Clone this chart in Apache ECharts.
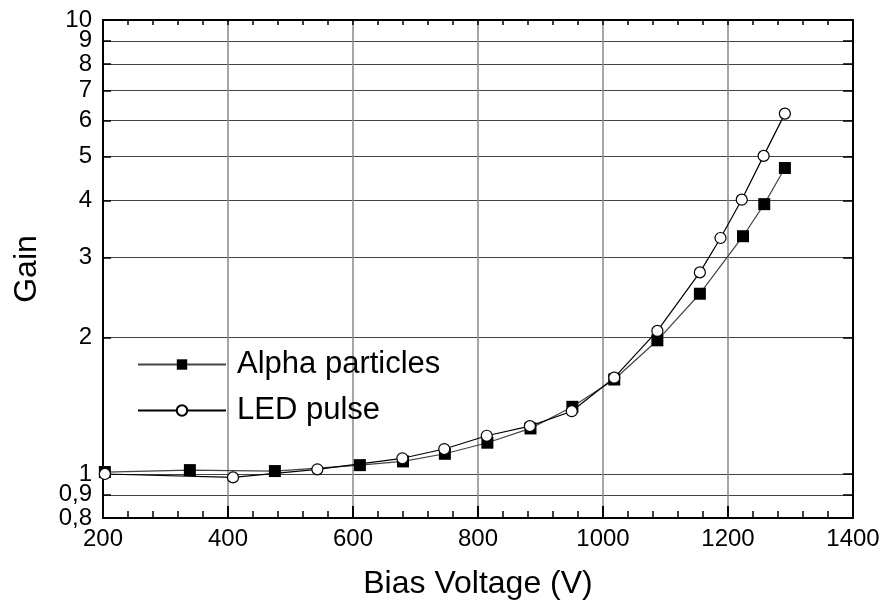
<!DOCTYPE html>
<html lang="en">
<head>
  <meta charset="UTF-8">
  <title>Gain vs Bias Voltage</title>
  <style>
    body, html { margin: 0; padding: 0; background: #fff; }
    #main { width: 888px; height: 613px; }
  </style>
</head>
<body>
  <div id="main"></div>
  <script src="https://cdn.jsdelivr.net/npm/echarts@6/dist/echarts.min.js"></script>
  <script>
    // data
    var alphaVolt = [203, 339, 475, 611, 680, 747, 815, 884, 951, 1018, 1087, 1155, 1224, 1258, 1291];
    var alphaGain = [1.01, 1.02, 1.015, 1.046, 1.066, 1.108, 1.172, 1.26, 1.406, 1.615, 1.97, 2.495, 3.34, 3.93, 4.72];
    var ledVolt = [203, 408, 543, 679, 746, 814, 883, 950, 1018, 1087, 1155, 1188, 1222, 1257, 1291];
    var ledGain = [1.0, 0.983, 1.024, 1.083, 1.135, 1.214, 1.275, 1.375, 1.63, 2.066, 2.78, 3.31, 4.02, 5.02, 6.22];
    var gainTicks = [0.8, 0.9, 1, 2, 3, 4, 5, 6, 7, 8, 9, 10];
    // labels split over two axes so the close ones near the ends are not hidden
    var gainLabelsA = [0.8, 1, 2, 3, 4, 5, 6, 7, 8, 10];
    var gainLabelsB = [0.9, 9];

    function pairs(xs, ys) {
      return xs.map(function (x, i) { return [x, ys[i]]; });
    }
    function gainFmt(v) {
      return String(Math.round(v * 10) / 10).replace('.', ',');
    }

    var font = 'Liberation Sans, Arial, sans-serif';
    var chart = echarts.init(document.getElementById('main'));

    var option = {
      animation: false,
      textStyle: { fontFamily: font },
      grid: { left: 103, right: 35, top: 20, bottom: 95 },
      legend: {
        orient: 'vertical',
        left: 137,
        top: 349,
        padding: 0,
        itemWidth: 88,
        itemHeight: 13,
        itemGap: 15,
        selectedMode: false,
        textStyle: { fontSize: 31, color: '#000', fontFamily: font, padding: [0, 0, 0, 6] },
        data: ['Alpha particles', 'LED pulse']
      },
      xAxis: [{
        type: 'value',
        min: 200,
        max: 1400,
        interval: 200,
        name: 'Bias Voltage (V)',
        nameLocation: 'middle',
        nameGap: 50,
        nameTextStyle: { fontSize: 32, color: '#000', fontFamily: font },
        axisLine: { lineStyle: { color: '#000', width: 2 } },
        axisTick: { inside: true, length: 12, lineStyle: { color: '#000', width: 2 } },
        minorTick: { show: true, splitNumber: 5, length: 7, lineStyle: { color: '#000', width: 1.5 } },
        axisLabel: {
          fontSize: 24, color: '#000', margin: 9, fontFamily: font,
          showMinLabel: true, showMaxLabel: true,
          formatter: function (v) { return String(v); }
        },
        splitLine: { show: true, lineStyle: { color: '#888', width: 1.5 } }
      }, {
        type: 'value',
        position: 'top',
        min: 200,
        max: 1400,
        interval: 200,
        axisLine: { lineStyle: { color: '#000', width: 2 } },
        axisTick: { inside: true, length: 5, lineStyle: { color: '#000', width: 1.5 } },
        minorTick: { show: true, splitNumber: 5, length: 5, lineStyle: { color: '#000', width: 1.5 } },
        axisLabel: { show: false },
        splitLine: { show: false }
      }],
      yAxis: [{
        type: 'log',
        logBase: 10,
        min: 0.8,
        max: 10,
        position: 'left',
        name: 'Gain',
        nameLocation: 'middle',
        nameGap: 60,
        nameTextStyle: { fontSize: 32, color: '#000', fontFamily: font },
        axisLine: { lineStyle: { color: '#000', width: 2 } },
        axisTick: { inside: true, length: 8, customValues: gainTicks, lineStyle: { color: '#000', width: 1.5 } },
        axisLabel: {
          fontSize: 24, color: '#000', margin: 11, fontFamily: font,
          customValues: gainLabelsA,
          showMinLabel: true, showMaxLabel: true,
          formatter: gainFmt
        },
        splitLine: { show: true, lineStyle: { color: '#444', width: 1.2 } }
      }, {
        type: 'log',
        logBase: 10,
        min: 0.8,
        max: 10,
        position: 'right',
        axisLine: { show: true, lineStyle: { color: '#000', width: 2 } },
        axisTick: { show: true, inside: true, length: 10, customValues: gainTicks, lineStyle: { color: '#000', width: 1.5 } },
        axisLabel: { show: false },
        splitLine: { show: false }
      }, {
        type: 'log',
        logBase: 10,
        min: 0.8,
        max: 10,
        position: 'left',
        offset: 0,
        axisLine: { show: false },
        axisTick: { show: false, customValues: gainLabelsB },
        axisLabel: {
          fontSize: 24, color: '#000', margin: 11, fontFamily: font,
          customValues: gainLabelsB,
          formatter: gainFmt
        },
        splitLine: { show: false }
      }],
      series: [{
        name: 'Alpha particles',
        type: 'line',
        xAxisIndex: 0,
        yAxisIndex: 0,
        symbol: 'rect',
        symbolSize: 12,
        itemStyle: { color: '#000' },
        lineStyle: { color: '#444', width: 1.2 },
        data: pairs(alphaVolt, alphaGain)
      }, {
        name: 'LED pulse',
        type: 'line',
        xAxisIndex: 0,
        yAxisIndex: 0,
        symbol: 'circle',
        symbolSize: 11,
        itemStyle: { color: '#fff', borderColor: '#000', borderWidth: 1.2 },
        lineStyle: { color: '#000', width: 1.2 },
        data: pairs(ledVolt, ledGain)
      }]
    };

    chart.setOption(option);
  </script>
</body>
</html>
